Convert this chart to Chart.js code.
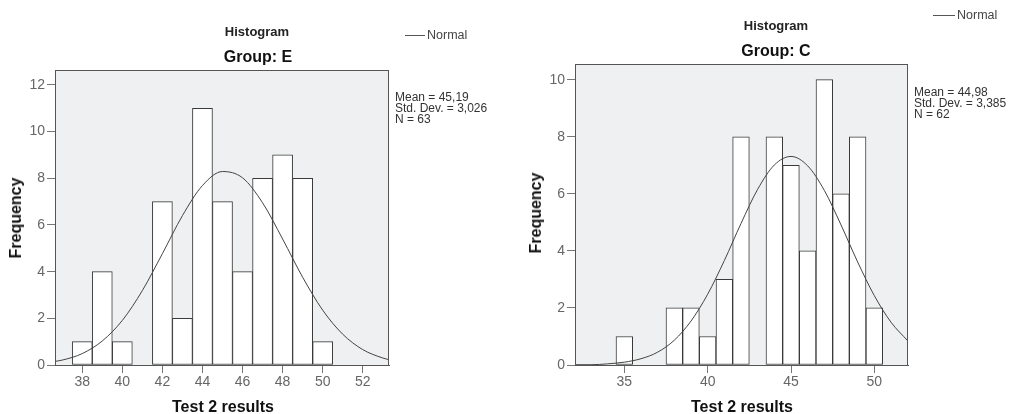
<!DOCTYPE html>
<html>
<head>
<meta charset="utf-8">
<script src="https://cdn.jsdelivr.net/npm/chart.js@4.4.1/dist/chart.umd.min.js"></script>
<style>
  html, body { margin: 0; padding: 0; background: #fff; }
  #wrap { position: relative; width: 1016px; height: 414px; overflow: hidden; font-family: "Liberation Sans", Arial, sans-serif; }
  canvas { position: absolute; top: 0; }
  .t { position: absolute; white-space: nowrap; line-height: 1; transform: translate(-50%, -50%); }
  .hist { font-size: 13px; font-weight: bold; color: #222; }
  .grp { font-size: 16px; font-weight: bold; color: #111; }
  .axt { font-size: 16px; font-weight: bold; color: #111; }
  .rot { transform: translate(-50%, -50%) rotate(-90deg); }
  .stats { position: absolute; font-size: 12px; line-height: 11px; color: #333; white-space: nowrap; }
  .leg { position: absolute; font-size: 12.5px; color: #444; line-height: 1; white-space: nowrap; }
  .legline { position: absolute; height: 1px; background: #555; }
</style>
</head>
<body>
<div id="wrap">
  <canvas id="cE" width="510" height="414" style="left:0px;width:510px;height:414px"></canvas>
  <canvas id="cC" width="506" height="414" style="left:510px;width:506px;height:414px"></canvas>

  <div class="t hist" style="left:257px;top:31px">Histogram</div>
  <div class="t grp" style="left:258px;top:57px">Group: E</div>
  <div class="legline" style="left:405px;top:35px;width:20px"></div>
  <div class="leg" style="left:427px;top:29px">Normal</div>
  <div class="stats" style="left:395px;top:92px">Mean = 45,19<br>Std. Dev. = 3,026<br>N = 63</div>
  <div class="t axt rot" style="left:16px;top:218px">Frequency</div>
  <div class="t axt" style="left:223px;top:407px">Test 2 results</div>

  <div class="t hist" style="left:776px;top:25px">Histogram</div>
  <div class="t grp" style="left:776px;top:51px">Group: C</div>
  <div class="legline" style="left:933px;top:15px;width:22px"></div>
  <div class="leg" style="left:957px;top:9px">Normal</div>
  <div class="stats" style="left:914px;top:87px">Mean = 44,98<br>Std. Dev. = 3,385<br>N = 62</div>
  <div class="t axt rot" style="left:536px;top:213px">Frequency</div>
  <div class="t axt" style="left:742px;top:407px">Test 2 results</div>
</div>
<script>
// ---- Group E ----
const binsE   = [38, 39, 40, 41, 42, 43, 44, 45, 46, 47, 48, 49, 50];
const countsE = [1, 4, 1, 0, 7, 2, 11, 7, 4, 8, 9, 8, 1];
const curveXE = [36.6, 37, 38, 39, 40, 41, 42, 43, 44, 45, 46, 47, 48, 49, 50, 51, 52, 53, 53.3];
const curveYE = [0.15, 0.21, 0.49, 1.03, 1.91, 3.19, 4.77, 6.40, 7.69, 8.29, 8.02, 6.95, 5.40, 3.76, 2.35, 1.32, 0.66, 0.30, 0.23];
const xTicksE = [38, 40, 42, 44, 46, 48, 50, 52];
const yTicksE = [0, 2, 4, 6, 8, 10, 12];

// ---- Group C ----
const binsC   = [35, 36, 37, 38, 39, 40, 41, 42, 43, 44, 45, 46, 47, 48, 49, 50];
const countsC = [1, 0, 0, 2, 2, 1, 3, 8, 0, 8, 7, 4, 10, 6, 8, 2];
const curveXC = [32, 33, 34, 35, 36, 37, 38, 39, 40, 41, 42, 43, 44, 45, 46, 47, 48, 49, 50, 51, 52];
const curveYC = [0.01, 0.01, 0.04, 0.10, 0.22, 0.45, 0.87, 1.54, 2.48, 3.66, 4.96, 6.16, 7.01, 7.31, 6.98, 6.12, 4.91, 3.61, 2.43, 1.50, 0.85];
const xTicksC = [35, 40, 45, 50];
const yTicksC = [0, 2, 4, 6, 8, 10];

const frame = {
  id: 'frame',
  beforeDatasetsDraw(chart) {
    const a = chart.chartArea, ctx = chart.ctx;
    ctx.save();
    ctx.fillStyle = '#eff0f1';
    ctx.fillRect(a.left, a.top, a.right - a.left, a.bottom - a.top);
    ctx.restore();
  },
  afterDatasetsDraw(chart) {
    const a = chart.chartArea, ctx = chart.ctx;
    ctx.save();
    ctx.strokeStyle = '#555';
    ctx.lineWidth = 1;
    ctx.strokeRect(Math.round(a.left) + 0.5, Math.round(a.top) + 0.5, Math.round(a.right - a.left) - 1, Math.round(a.bottom - a.top));
    ctx.restore();
  }
};

function makeChart(id, bins, counts, cx, cy, xTicks, yTicks, xMin, xMax, yMax, pad, yW) {
  const tickFont = { family: '"Liberation Sans", Arial, sans-serif', size: 14 };
  new Chart(document.getElementById(id), {
    data: {
      datasets: [
        {
          type: 'line',
          order: 0,
          data: cx.map((x, i) => ({ x: x, y: cy[i] })),
          borderColor: '#444',
          borderWidth: 1,
          pointRadius: 0,
          cubicInterpolationMode: 'monotone',
          fill: false
        },
        {
          type: 'bar',
          order: 1,
          data: bins.map((b, i) => ({ x: b, y: counts[i] })),
          backgroundColor: '#ffffff',
          borderColor: '#3a3a3a',
          borderWidth: 1,
          borderSkipped: false,
          categoryPercentage: 1,
          barPercentage: 1
        }
      ]
    },
    options: {
      responsive: false,
      animation: false,
      devicePixelRatio: 1,
      layout: { padding: pad },
      plugins: { legend: { display: false }, tooltip: { enabled: false } },
      scales: {
        x: {
          type: 'linear',
          offset: false,
          min: xMin, max: xMax,
          afterBuildTicks: s => { s.ticks = xTicks.map(v => ({ value: v })); },
          afterFit: s => { s.height = 49; },
          grid: { display: true, offset: false, drawOnChartArea: false, drawTicks: true, tickLength: 8, color: '#777' },
          border: { display: true, color: '#555' },
          ticks: { color: '#666', font: tickFont, padding: 1, maxRotation: 0, autoSkip: false }
        },
        y: {
          type: 'linear',
          min: 0, max: yMax,
          afterBuildTicks: s => { s.ticks = yTicks.map(v => ({ value: v })); },
          afterFit: s => { s.width = yW; },
          grid: { display: true, drawOnChartArea: false, drawTicks: true, tickLength: 8, color: '#777' },
          border: { display: true, color: '#555' },
          ticks: { color: '#666', font: tickFont, padding: 2, autoSkip: false }
        }
      }
    },
    plugins: [frame]
  });
}

makeChart('cE', binsE, countsE, curveXE, curveYE, xTicksE, yTicksE, 36.64, 53.31, 12.64,
  { left: 0, top: 70, right: 121, bottom: 0 }, 55);
makeChart('cC', binsC, countsC, curveXC, curveYC, xTicksC, yTicksC, 32.04, 52.02, 10.55,
  { left: 0, top: 64, right: 108, bottom: 0 }, 65);
</script>
</body>
</html>
